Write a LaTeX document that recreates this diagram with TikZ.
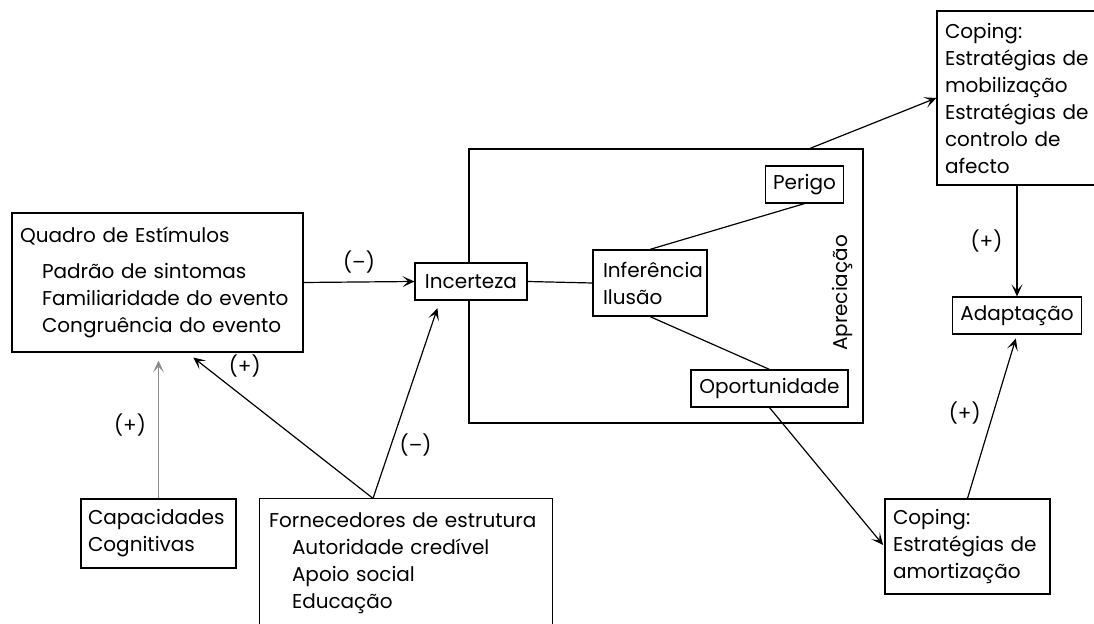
\documentclass[tikz,border=0pt]{standalone}
\usepackage{fontspec}
\setmainfont{Poppins}
\usetikzlibrary{arrows.meta,calc}

\begin{document}
\begin{tikzpicture}[x=0.5pt, y=-0.5pt,
  box/.style={draw, line width=0.6pt, rectangle, fill=white, align=left, inner xsep=4pt,
              inner ysep=2pt, font=\fontsize{10}{13.5}\selectfont},
  sbox/.style={box, align=center, minimum height=18.5pt},
  ar/.style={-{Stealth[length=6pt, width=5.5pt, inset=3pt]}, line width=0.6pt},
  ln/.style={line width=0.6pt},
  lb/.style={font=\fontsize{10}{12}\selectfont, inner sep=1pt},
]
\useasboundingbox (0,0) rectangle (1094,624);

% appraisal frame, drawn first so the boxes cover it
\node[draw, line width=0.6pt, minimum width=197pt, minimum height=137pt] (frame) at (666,286) {};
\node[lb, rotate=90] (aprlab) at (842,293) {Apreciação};

\node[box, minimum width=145.5pt, minimum height=69.5pt, text width=137.5pt] (quadro) at (157.5,282.5)
  {Quadro de Estímulos\\[4.5pt]
   \hspace*{11pt}Padrão de sintomas\\
   \hspace*{11pt}Familiaridade do evento\\
   \hspace*{11pt}Congruência do evento};
\node[sbox, minimum width=56pt] (incerteza) at (471,281.5) {Incerteza};
\node[box, inner xsep=5pt, text width=47pt, minimum height=33pt] (inferencia) at (650,283) {Inferência\\Ilusão};
\node[sbox, minimum width=38.5pt] (perigo) at (804.5,184.5) {Perigo};
\node[sbox, minimum width=78.5pt] (oportunidade) at (769.5,388.5) {Oportunidade};
\node[box, text width=73.5pt, minimum height=87pt] (copmob) at (1018.5,98)
  {Coping:\\Estratégias de\\mobilização\\Estratégias de\\controlo de\\afecto};
\node[sbox, minimum width=64pt] (adaptacao) at (1017,315.5) {Adaptação};
\node[box, text width=74.5pt, minimum height=47.5pt] (copamort) at (967.5,546.5)
  {Coping:\\Estratégias de\\amortização};
\node[box, inner xsep=3.5pt, text width=70.5pt, minimum height=34.5pt] (capacidades) at (158.5,533.5)
  {Capacidades\\Cognitivas};
\node[box, draw=none, fill=none, inner xsep=4.5pt, text width=137pt, minimum height=64pt] (fornecedores) at (406,563)
  {Fornecedores de estrutura\\
   \hspace*{11.5pt}Autoridade credível\\
   \hspace*{11.5pt}Apoio social\\
   \hspace*{11.5pt}Educação};
\draw[ln] (fornecedores.south west) |- (fornecedores.north east) -- (fornecedores.south east);

\draw[ar] (quadro.east) -- node[lb, above=3pt] {(--)} (incerteza.west);
\draw[ln] (incerteza.east) -- (inferencia.west);
\draw[ln] (perigo.south) -- (inferencia.north);
\draw[ln] (inferencia.south) -- (oportunidade.north);
\draw[ar] ([xshift=72pt]frame.north) -- (copmob.west);
\draw[ar] (adaptacao.north |- copmob.south) -- node[lb, left=6pt] {(+)} (adaptacao.north);
\draw[ar, shorten >=1pt] (oportunidade.south) -- (copamort.west);
\draw[ar, shorten >=2pt] (copamort.north) -- node[lb, pos=0.52, left=5pt] {(+)} (adaptacao.south);
\draw[ar, draw=black!45, shorten >=4pt] (capacidades.north) -- node[lb, left=5pt] {(+)} (capacidades.north |- quadro.south);
\draw[ar, shorten >=4pt] ([xshift=-16.5pt]fornecedores.north) -- node[lb, pos=0.8, above right=1pt] {(+)} ([xshift=14.75pt]quadro.south);
\draw[ar, shorten >=4pt] ([xshift=-16.5pt]fornecedores.north) -- node[lb, pos=0.27, right=3pt] {(--)} ([xshift=-15.5pt]incerteza.south);
\end{tikzpicture}
\end{document}
